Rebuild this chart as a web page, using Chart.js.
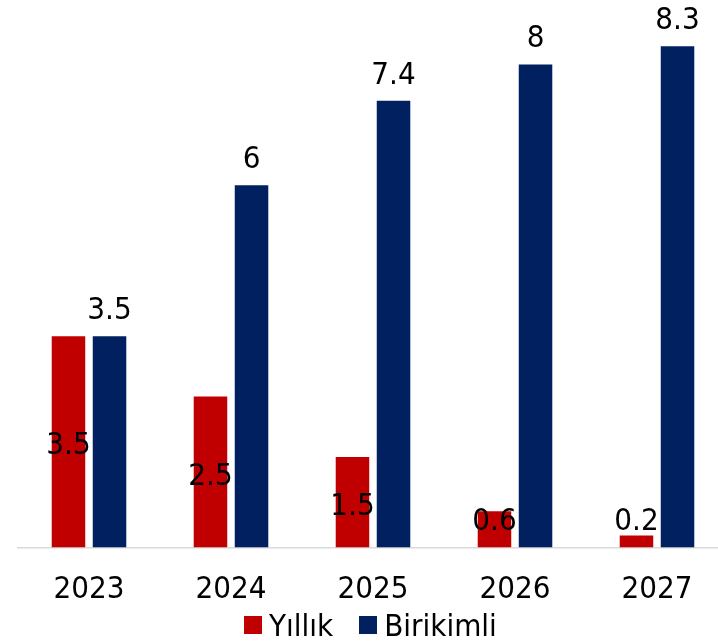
<!DOCTYPE html>
<html lang="tr">
<head>
<meta charset="utf-8">
<title>Yıllık ve Birikimli</title>
<script src="https://cdn.jsdelivr.net/npm/chart.js@4/dist/chart.umd.min.js"></script>
<style>
    html, body {
        margin: 0;
        padding: 0;
        background: #ffffff;
        overflow: hidden;
    }
    .wrap {
        position: relative;
        width: 718px;
        height: 644px;
        overflow: hidden;
    }
    #barChart {
        display: block;
    }
    .legend {
        position: absolute;
        top: 606px;
        left: 244px;
        display: flex;
        align-items: center;
        font-family: "DejaVu Sans Condensed", "Liberation Sans", sans-serif;
        font-size: 31px;
        line-height: 38px;
        color: #000000;
        white-space: nowrap;
    }
    .legend-item {
        display: flex;
        align-items: center;
        margin-right: 26px;
    }
    .legend-box {
        width: 18px;
        height: 18px;
        margin-right: 7px;
    }
</style>
</head>
<body>
<div class="wrap">
    <canvas id="barChart" width="728" height="632"></canvas>
    <div class="legend" id="chartLegend"></div>
</div>

<script>
// ============================
// DATA
// ============================
const years = ["2023", "2024", "2025", "2026", "2027"];
const yillik = [3.5, 2.5, 1.5, 0.6, 0.2];
const birikimli = [3.5, 6, 7.4, 8, 8.3];
const seriesNames = ["Yıllık", "Birikimli"];
const seriesColors = ["#C00000", "#002060"];

const FONT = "'DejaVu Sans Condensed', 'Liberation Sans', sans-serif";

// value labels: annual ones sit in the middle of the bar (pushed up
// when the bar is too short), cumulative ones sit above the bar
const valueLabels = {
    id: "valueLabels",
    afterDatasetsDraw(chart) {
        const ctx = chart.ctx;
        ctx.save();
        ctx.font = "31px " + FONT;
        ctx.fillStyle = "#000000";
        ctx.textAlign = "center";
        ctx.textBaseline = "alphabetic";

        chart.data.datasets.forEach((ds, i) => {
            const meta = chart.getDatasetMeta(i);
            meta.data.forEach((bar, j) => {
                const text = String(ds.data[j]);
                if (i === 0) {
                    const mid = Math.min((bar.y + bar.base) / 2 + 1, bar.base - 29);
                    ctx.fillText(text, bar.x, mid + 11.5);
                } else {
                    ctx.fillText(text, bar.x, bar.y - 17);
                }
            });
        });
        ctx.restore();
    }
};

document.addEventListener("DOMContentLoaded", () => {

    const ctx = document.getElementById("barChart");

    const chart = new Chart(ctx, {
        type: "bar",
        data: {
            labels: years,
            datasets: [
                {
                    label: seriesNames[0],
                    data: yillik,
                    backgroundColor: seriesColors[0],
                    borderWidth: 0
                },
                {
                    label: seriesNames[1],
                    data: birikimli,
                    backgroundColor: seriesColors[1],
                    borderWidth: 0
                }
            ]
        },
        options: {
            responsive: false,
            animation: false,
            datasets: {
                bar: {
                    categoryPercentage: 0.578,
                    barPercentage: 0.817
                }
            },
            layout: {
                padding: { left: 18, top: 4, right: 0, bottom: 0 }
            },
            plugins: {
                legend: { display: false },
                tooltip: { enabled: false }
            },
            scales: {
                x: {
                    grid: { display: false, drawTicks: false },
                    border: { display: true, color: "#d9d9d9", width: 1.5 },
                    ticks: {
                        padding: 23,
                        color: "#000000",
                        font: { family: FONT, size: 31, lineHeight: 1.24 }
                    }
                },
                y: {
                    display: false,
                    min: 0,
                    max: 9
                }
            }
        },
        plugins: [valueLabels]
    });

    // HTML legend built from the datasets
    const legend = document.getElementById("chartLegend");
    chart.data.datasets.forEach(ds => {
        const item = document.createElement("div");
        item.className = "legend-item";
        item.innerHTML = `<span class="legend-box" style="background:${ds.backgroundColor}"></span><span>${ds.label}</span>`;
        legend.appendChild(item);
    });
});
</script>
</body>
</html>
